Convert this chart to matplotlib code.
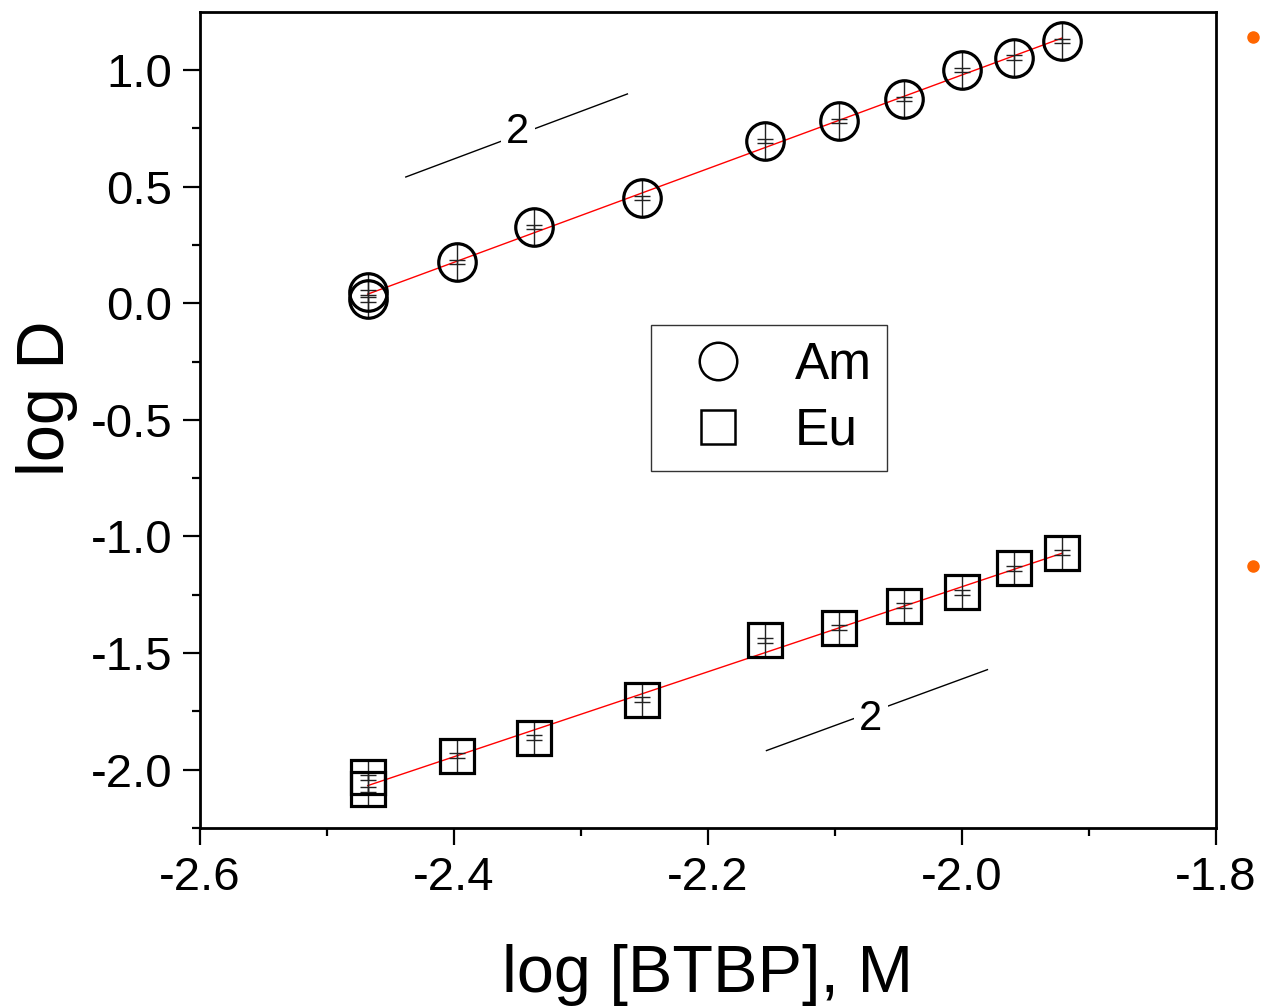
import numpy as np
import matplotlib
matplotlib.use('Agg')
from matplotlib import pyplot as plt
from matplotlib.lines import Line2D
from matplotlib.ticker import MultipleLocator

plt.rcParams['font.family'] = ['Liberation Sans', 'DejaVu Sans']

# log [BTBP]
log_btbp = [-2.468, -2.468, -2.398, -2.337, -2.252, -2.155, -2.097, -2.046, -2.0, -1.959, -1.921]
am_logd = [0.047, 0.017, 0.176, 0.326, 0.451, 0.695, 0.781, 0.876, 1.0, 1.052, 1.124]
eu_logd = [-2.032, -2.084, -1.94, -1.863, -1.700, -1.446, -1.391, -1.296, -1.240, -1.137, -1.069]
am_err = 0.01
eu_err = 0.01

# slope-2 guide lines
guide_am_x = [-2.438, -2.2635]
guide_am_y = [0.541, 0.897]
guide_am_lbl = (-2.350, 0.734)
guide_eu_x = [-2.154, -1.980]
guide_eu_y = [-1.918, -1.571]
guide_eu_lbl = (-2.072, -1.781)

# stray orange dots outside the frame (figure fraction)
dots_x = [0.992, 0.992]
dots_y = [0.963, 0.437]

fig = plt.figure(figsize=(12.63, 10.06), dpi=100)
ax = fig.add_axes([0.1584, 0.1769, 0.8044, 0.8111])

x = np.array(log_btbp)
for yv, err, mk, ms in [(am_logd, am_err, 'o', 27), (eu_logd, eu_err, 's', 25)]:
    yv = np.array(yv)
    k, b = np.polyfit(x, yv, 1)
    xf = np.array([x.min(), x.max()])
    ax.plot(xf, k * xf + b, color='red', lw=1.0, zorder=2)
    ax.errorbar(x, yv, yerr=err, fmt='none', ecolor='#222222', elinewidth=1,
                capsize=6, capthick=1, zorder=3)
    ax.plot(x, yv, ls='none', marker='|', ms=ms, mew=1, color='#222222', zorder=3)
    ax.plot(x, yv, ls='none', marker=mk, ms=ms, mfc='none', mec='black', mew=2.3, zorder=4)

for gx, gy, (lx, ly) in [(guide_am_x, guide_am_y, guide_am_lbl),
                         (guide_eu_x, guide_eu_y, guide_eu_lbl)]:
    ax.plot(gx, gy, color='black', lw=1.0, zorder=2)
    ax.text(lx, ly, '2', fontsize=30, ha='center', va='center', zorder=3,
            bbox=dict(facecolor='white', edgecolor='none', pad=4))

ax.set_xlim(-2.6, -1.8)
ax.set_ylim(-2.25, 1.248)
ax.xaxis.set_major_locator(MultipleLocator(0.2))
ax.xaxis.set_minor_locator(MultipleLocator(0.1))
ax.yaxis.set_major_locator(MultipleLocator(0.5))
ax.yaxis.set_minor_locator(MultipleLocator(0.25))
ax.xaxis.set_major_formatter(matplotlib.ticker.FormatStrFormatter('%.1f'))
ax.yaxis.set_major_formatter(matplotlib.ticker.FormatStrFormatter('%.1f'))
ax.tick_params(which='major', direction='out', length=12, width=1.6, labelsize=34, pad=8)
ax.tick_params(which='minor', direction='out', length=6, width=1.6)
ax.tick_params(top=False, right=False, which='both')
for s in ax.spines.values():
    s.set_linewidth(2)

ax.set_xlabel('log [BTBP], M', fontsize=48)
ax.set_ylabel('log D', fontsize=48)
ax.xaxis.set_label_coords(0.5, -0.142)
ax.yaxis.set_label_coords(-0.12, 0.527)

handles = [Line2D([], [], ls='none', marker='o', ms=27, mfc='none', mec='black', mew=1.8),
           Line2D([], [], ls='none', marker='s', ms=25, mfc='none', mec='black', mew=1.8)]
leg = ax.legend(handles, ['Am', 'Eu'], loc='upper left', bbox_to_anchor=(0.444, 0.616),
                fontsize=37, frameon=True, fancybox=False, edgecolor='black',
                handlelength=2.0, handletextpad=0.5, borderpad=0.3, labelspacing=0.33,
                borderaxespad=0)
leg.get_frame().set_linewidth(1)

for dx, dy in zip(dots_x, dots_y):
    fig.add_artist(Line2D([dx], [dy], marker='o', ms=8, color='#ff6600', ls='none',
                          transform=fig.transFigure))

fig.savefig('out.png', dpi=100)
